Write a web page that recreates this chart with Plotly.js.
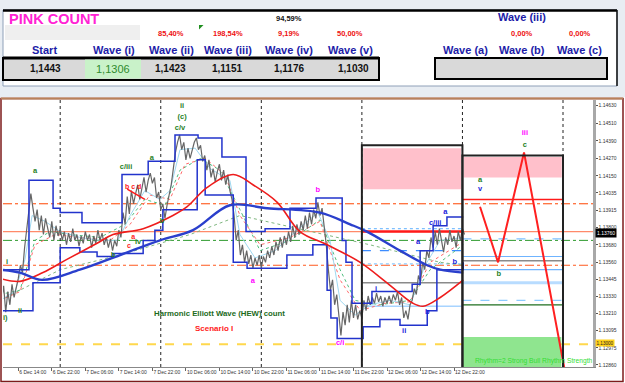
<!DOCTYPE html>
<html><head><meta charset="utf-8">
<script src="https://cdn.plot.ly/plotly-3.0.1.min.js"></script>
<style>html,body{margin:0;padding:0;background:#fff;overflow:hidden}#chart{width:625px;height:383px}</style>
</head><body><div id="chart"></div>
<script>
// ---------------- data ----------------
const tickHours = [14,22,30,38,46,54,62,70,78,86,94,102,110,118];
const tickLabels = ["6 Dec 14:00","6 Dec 22:00","7 Dec 06:00","7 Dec 14:00","7 Dec 22:00","10 Dec 06:00","10 Dec 14:00","10 Dec 22:00","11 Dec 06:00","11 Dec 14:00","11 Dec 22:00","12 Dec 06:00","12 Dec 14:00","12 Dec 22:00"];
const dayBreakHours = [24,48,72,96,120,144];
const priceTicks = [1.14630,1.14510,1.14390,1.14270,1.14150,1.14035,1.13915,1.13800,1.13680,1.13560,1.13445,1.13330,1.13210,1.13095,1.12975,1.12860];

const barStartHour = 10, barStepHours = 0.5;
const closePrices = [
1.1330,1.1340,1.1322,1.1336,1.1327,1.1341,1.1332,1.1338,1.1345,
1.1354,1.1349,1.1366,1.1377,1.1390,1.1403,1.1393,
1.1384,1.1392,1.1378,1.1388,1.1375,1.1386,1.1379,1.1373,1.1384,1.1371,1.1381,1.1374,1.1379,
1.1371,1.1377,1.1368,1.1376,1.1370,1.1379,1.1371,1.1375,1.1367,1.1374,1.1369,1.1377,1.1371,1.1375,1.1366,1.1374,1.1369,1.1378,1.1371,1.1376,1.1368,1.1373,1.1366,1.1372,1.1364,1.1371,1.1367,
1.1378,1.1373,1.1390,1.1382,1.1401,1.1389,1.1405,1.1396,1.1403,1.1409,1.1399,1.1407,1.1414,1.1404,1.1412,1.1417,
1.1410,1.1414,1.1400,1.1404,1.1392,1.1396,1.1386,
1.1395,1.1401,1.1409,1.1420,1.1431,1.1438,1.1443,
1.1433,1.1438,1.1426,1.1434,1.1427,1.1433,1.1438,1.1441,1.1433,1.1436,1.1425,1.1429,
1.1419,1.1426,1.1414,1.1420,1.1411,1.1418,1.1423,1.1412,1.1419,1.1409,1.1416,1.1405,1.1399,
1.1388,1.1371,1.1378,1.1361,1.1368,1.1356,1.1364,
1.1355,1.1361,1.1352,1.1359,1.1354,1.1361,1.1352,1.1360,1.1356,1.1364,1.1359,1.1367,1.1361,1.1370,1.1364,1.1373,1.1366,1.1374,1.1368,1.1377,1.1370,1.1381,1.1373,1.1382,1.1375,
1.1384,1.1378,1.1388,1.1379,1.1390,1.1382,1.1392,1.1386,1.1397,1.1388,1.1393,1.1382,1.1368,
1.1351,1.1337,1.1344,1.1327,1.1334,1.1318,1.1306,1.1322,1.1313,
1.1327,1.1315,1.1330,1.1318,1.1327,1.1317,1.1323,1.1318,
1.1330,1.1323,1.1333,1.1327,1.1332,1.1328,1.1335,1.1329,1.1333,1.1326,1.1332,1.1328,1.1333,1.1328,1.1334,1.1330,1.1336,1.1327,1.1332,1.1318,1.1323,1.1317,1.1327,1.1330,
1.1338,1.1334,1.1347,1.1343,1.1356,1.1351,1.1364,1.1359,1.1373,
1.1366,1.1377,1.1368,1.1379,1.1371,1.1363,1.1373,1.1368,1.1378,1.1370,1.1374,1.1366,1.1377,1.1371,1.1379,1.1375
];
const barHours = closePrices.map((_, i) => barStartHour + i * barStepHours);

// channel steps
const upperHours = [9.6,16.55,22.3,24.0,29.2,38.75,45.0,51.4,56.9,62.6,68.35,72.9,78.85,85.05,91.3,92.2,93.65,98.4,108.0,109.9,113.0,116.3,120.2];
const upperPrices = [1.1351,1.1412,1.1393,1.1390,1.1383,1.1416,1.1425,1.1443,1.1441,1.1428,1.1377,1.1379,1.1393,1.1400,1.1371,1.1356,1.1328,1.1336,1.1341,1.1364,1.1381,1.1387,1.1387];
const lowerHours = [9.6,17.5,24.0,28.7,32.8,36.6,43.8,46.6,48.5,56.7,58.6,65.3,68.6,78.1,84.3,87.7,88.6,90.1,96.3,100.3,105.1,111.6,113.9,120.2];
const lowerPrices = [1.1323,1.1342,1.1366,1.1363,1.1360,1.1362,1.1371,1.1378,1.1392,1.1426,1.1402,1.1356,1.1352,1.1361,1.1368,1.1337,1.1318,1.1304,1.1312,1.1317,1.1313,1.1323,1.1351,1.1356];

// moving averages
const redMaHours = [9.6,14.4,19.9,25.6,32.8,36.6,43.8,50.9,54.3,59.0,65.3,70.0,75.8,81.2,87.7,95.6,102.0,108.2,110.6,114.7,120.2];
const redMaPrices = [1.1345,1.1343,1.1349,1.1358,1.1369,1.1375,1.1379,1.1388,1.1394,1.1407,1.1416,1.1409,1.1397,1.1377,1.1368,1.1356,1.1342,1.1328,1.1326,1.1332,1.1344];
const blueMaHours = [9.6,14.4,19.7,28.7,38.3,47.8,55.7,64.5,73.4,86.0,93.2,97.2,105.1,111.6,114.7,120.2];
const blueMaPrices = [1.1351,1.1349,1.1344,1.1351,1.1361,1.1371,1.1378,1.1395,1.1393,1.1390,1.1382,1.1377,1.1364,1.1354,1.1351,1.1349];
const fastMaHours = [9.6,13.2,15.6,17.3,20.4,24.0,28.7,33.5,37.8,40.7,44.2,47.8,50.2,52.6,56.2,59.8,64.5,66.9,70.5,75.3,80.1,85.5,88.4,90.8,94.4,97.9,102.7,107.5,111.1,114.7,120.2];
const fastMaPrices = [1.1330,1.1336,1.1358,1.1388,1.1384,1.1377,1.1373,1.1371,1.1371,1.1388,1.1405,1.1399,1.1405,1.1433,1.1434,1.1420,1.1412,1.1375,1.1359,1.1364,1.1377,1.1390,1.1371,1.1330,1.1320,1.1327,1.1330,1.1327,1.1354,1.1371,1.1373];
const greenMaHours = [9.6,14.4,18.0,21.6,26.3,33.5,39.5,44.2,49.0,52.6,57.4,62.1,66.9,71.7,78.9,86.0,90.8,94.4,100.3,107.5,112.3,120.2];
const greenMaPrices = [1.1334,1.1337,1.1371,1.1377,1.1375,1.1373,1.1382,1.1399,1.1395,1.1419,1.1427,1.1419,1.1392,1.1364,1.1371,1.1385,1.1351,1.1330,1.1327,1.1330,1.1351,1.1368];
const redDotHours = [9.6,14.4,18.0,22.8,28.7,35.9,40.7,45.4,50.2,53.8,58.6,63.3,66.9,71.7,78.9,86.0,90.8,95.6,101.5,107.5,112.3,120.2];
const redDotPrices = [1.1330,1.1336,1.1368,1.1375,1.1373,1.1371,1.1382,1.1402,1.1399,1.1423,1.1427,1.1416,1.1388,1.1368,1.1373,1.1384,1.1344,1.1323,1.1328,1.1329,1.1356,1.1370];
const slowMaHours = [9.6,24.0,38.3,55.0,66.9,81.2,97.9,114.7,120.2];
const slowMaPrices = [1.1330,1.1351,1.1361,1.1375,1.1388,1.1379,1.1368,1.1356,1.1354];

const trendHours = [40.0,44.2];
const trendPrices = [1.1406,1.1399];
const projHours = [124.2,128.5,134.7,144.5];
const projPrices = [1.1394,1.1356,1.1431,1.1281];

// horizontal levels (full width)
const levelPrices = [1.1396,1.1377,1.1371,1.1354,1.1300];
// zones
const zoneStart = [96,120];
const zoneEnd = [120,144];
const zoneTop = [1.1436,1.1429];
const pinkLow = [1.1406,1.1414];
const pinkHigh = [1.1434,1.1428];
const greenZoneTop = 1.1305;
const box1Levels = [1.1377,1.1379,1.1364,1.1355,1.1342,1.1326];
const box2Levels = [1.1399,1.1372,1.1360,1.1357,1.1351,1.1342,1.1330,1.1327];

// wave labels
const greenLabelText = ["a","c/iii","a","ii","(c)","c/v","b","i","ii","i)","b","iv","a","b","c"];
const greenLabelHour = [18.0,39.7,45.9,53.1,53.1,52.6,48.3,11.3,14.4,10.9,36.6,42.6,124.2,128.7,134.9];
const greenLabelPrice = [1.1418,1.1421,1.1427,1.1463,1.1455,1.1448,1.1384,1.1356,1.1323,1.1318,1.1361,1.1370,1.1412,1.1348,1.1436];
const blueLabelText = ["v","c/iii","a","a","i","ii","b","b"];
const blueLabelHour = [124.2,113.5,115.9,109.4,99.4,106.1,111.6,118.2];
const blueLabelPrice = [1.1406,1.1383,1.1390,1.1370,1.1338,1.1309,1.1322,1.1356];
const magentaLabelText = ["a","b","c/i","iii"];
const magentaLabelHour = [70.0,85.5,90.8,134.9];
const magentaLabelPrice = [1.1343,1.1405,1.1301,1.1444];
const redLabelText = ["b c d","a","c"];
const redLabelHour = [41.4,41.4,40.4];
const redLabelPrice = [1.1407,1.1373,1.1367];

// table
const headerNames = ["Start","Wave (i)","Wave (ii)","Wave (iii)","Wave (iv)","Wave (v)","Wave (a)","Wave (b)","Wave (c)"];
const countValues = ["1,1443","1,1306","1,1423","1,1151","1,1176","1,1030"];
const ratioTexts = ["85,40%","198,54%","9,19%","50,00%","0,00%","0,00%"];

// ---------------- drawing ----------------
const X_RANGE = [10.35, 151.16];
const Y_RANGE = [1.12845, 1.14669];
const PL=3, PR=593, PT=100, PB=367;
const fx = x => (x-PL)/(PR-PL);
const fy = y => (PB-y)/(PB-PT);
const FONT = "Liberation Sans, Arial, sans-serif";

function ln(x,y,color,width,dash,shape){
  return {type:'scatter',mode:'lines',x:x,y:y,line:{color:color,width:width,dash:dash||'solid',shape:shape||'linear'},hoverinfo:'skip',showlegend:false};
}
function txt(x,y,t,color,size){
  return {type:'scatter',mode:'text',x:x,y:y,text:t,textposition:'middle center',
    textfont:{family:FONT,size:size||7.5,color:color,weight:'bold'},hoverinfo:'skip',showlegend:false,cliponaxis:false};
}

const traces = [
  ln(slowMaHours, slowMaPrices, '#7fb77f', 1, 'dot'),
  ln(greenMaHours, greenMaPrices, '#4fbf7f', 1, 'dot'),
  ln(redDotHours, redDotPrices, '#ff6a6a', 1, 'dot'),
  ln(fastMaHours, fastMaPrices, '#9fd8f0', 1),
  ln(barHours, closePrices, '#666666', 1.2),
  ln(upperHours, upperPrices, '#2233cc', 1.5, 'solid', 'hv'),
  ln(lowerHours, lowerPrices, '#2233cc', 1.5, 'solid', 'hv'),
  ln(redMaHours, redMaPrices, '#ee1c1c', 1.6, 'solid', 'spline'),
  ln(blueMaHours, blueMaPrices, '#2a3fcc', 2.4, 'solid', 'spline'),
  ln(trendHours, trendPrices, '#ff1a1a', 1.5),
  ln(projHours, projPrices, '#ff2020', 2),
  txt(greenLabelHour, greenLabelPrice, greenLabelText, '#1f7f1f'),
  txt(blueLabelHour, blueLabelPrice, blueLabelText, '#1a1adc'),
  txt(magentaLabelHour, magentaLabelPrice, magentaLabelText, '#ff00ff'),
  txt(redLabelHour, redLabelPrice, redLabelText, '#ff1a1a', 7)
];

const shapes = [];
for (let i=0;i<zoneStart.length;i++){
  shapes.push({type:'rect',xref:'x',yref:'y',x0:zoneStart[i]+0.3,x1:zoneEnd[i]-0.3,y0:pinkLow[i],y1:pinkHigh[i],fillcolor:'#ffc0cb',line:{width:0},layer:'below'});
}
shapes.push({type:'rect',xref:'x',yref:'y',x0:zoneStart[1],x1:zoneEnd[1]-0.4,y0:Y_RANGE[0],y1:greenZoneTop,fillcolor:'#8fe58f',line:{width:0},layer:'below'});
const levelStyle = [['#ff4500','dashdot',1],['#ff8a6a','solid',1.2],['#2e9a2e','dashdot',1],['#ff5a1f','dashdot',1],['#ffd84d','dash',2]];
levelPrices.forEach((p,i)=>shapes.push({type:'line',xref:'paper',yref:'y',x0:0,x1:1,y0:p,y1:p,line:{color:levelStyle[i][0],dash:levelStyle[i][1],width:levelStyle[i][2]},layer:'below'}));
const b1Style = [['#ff1a1a','solid',2.5],['#7ec0ff','dot',1.2],['#3c8cff','dash',1.2],['#8ccaff','dot',1.2],['#8a8a8a','solid',1.5],['#a8d4ff','solid',1.5]];
box1Levels.forEach((p,i)=>shapes.push({type:'line',xref:'x',yref:'y',x0:zoneStart[0],x1:zoneEnd[0],y0:p,y1:p,line:{color:b1Style[i][0],dash:b1Style[i][1],width:b1Style[i][2]},layer:'below'}));
const b2Style = [['#ff1a1a','solid',1.5],['#7ec0ff','dash',1.2],['#6fb4ff','solid',1.2],['#8a8a8a','solid',1.5],['#6fb4ff','solid',1.2],['#b8dcff','solid',3],['#8ccaff','dash',1.2],['#1f6f1f','solid',1.2]];
box2Levels.forEach((p,i)=>shapes.push({type:'line',xref:'x',yref:'y',x0:zoneStart[1],x1:zoneEnd[1],y0:p,y1:p,line:{color:b2Style[i][0],dash:b2Style[i][1],width:b2Style[i][2]},layer:'below'}));
for (let i=0;i<zoneStart.length;i++){
  shapes.push({type:'rect',xref:'x',yref:'y',x0:zoneStart[i],x1:zoneEnd[i],y0:Y_RANGE[0]-0.001,y1:zoneTop[i],line:{color:'#222',width:2},fillcolor:'rgba(0,0,0,0)'});
}
dayBreakHours.forEach(h=>shapes.push({type:'line',xref:'x',yref:'paper',x0:h,x1:h,y0:0,y1:1,line:{color:'#222',width:1,dash:'dot'},layer:'below'}));

const deco = [
  {type:'rect',xref:'paper',yref:'paper',x0:fx(-5),x1:fx(630),y0:fy(97),y1:fy(-5),fillcolor:'#e8edf3',line:{width:0}},
  {type:'rect',xref:'paper',yref:'paper',x0:fx(3),x1:fx(617),y0:fy(86),y1:fy(10),fillcolor:'#ffffff',line:{color:'#8fa0b8',width:1}},
  {type:'line',xref:'paper',yref:'paper',x0:fx(3),x1:fx(617),y0:fy(10.5),y1:fy(10.5),line:{color:'#000',width:2.5}},
  {type:'line',xref:'paper',yref:'paper',x0:fx(617),x1:fx(617),y0:fy(10),y1:fy(86),line:{color:'#111',width:1.5}},
  {type:'rect',xref:'paper',yref:'paper',x0:fx(5),x1:fx(140),y0:fy(40),y1:fy(25),fillcolor:'#efefef',line:{width:0}},
  {type:'rect',xref:'paper',yref:'paper',x0:fx(3),x1:fx(379),y0:fy(80),y1:fy(58),fillcolor:'#d9d9d9',line:{color:'#000',width:2}},
  {type:'line',xref:'paper',yref:'paper',x0:fx(3),x1:fx(379),y0:fy(58),y1:fy(58),line:{color:'#000',width:3}},
  {type:'rect',xref:'paper',yref:'paper',x0:fx(85),x1:fx(141),y0:fy(78.5),y1:fy(59.5),fillcolor:'#c9f2c9',line:{width:0}},
  {type:'rect',xref:'paper',yref:'paper',x0:fx(435),x1:fx(607),y0:fy(79),y1:fy(58),fillcolor:'#d9d9d9',line:{color:'#000',width:2}},
  {type:'path',xref:'paper',yref:'paper',path:`M ${fx(199)} ${fy(25)} L ${fx(203.5)} ${fy(25)} L ${fx(199)} ${fy(29.5)} Z`,fillcolor:'#1f8f1f',line:{width:0}},
  {type:'rect',xref:'paper',yref:'paper',x0:fx(1),x1:fx(623),y0:fy(381.5),y1:fy(98.5),line:{color:'#7d1b1b',width:1.5},fillcolor:'rgba(0,0,0,0)'},
  {type:'line',xref:'paper',yref:'paper',x0:fx(1),x1:fx(623),y0:fy(98.5),y1:fy(98.5),line:{color:'#b8825c',width:1.8}}
];

const annotations = [];
function ann(x,y,text,color,size,bold){
  return {xref:'paper',yref:'paper',x:fx(x),y:fy(y),text:text,showarrow:false,xanchor:'center',yanchor:'middle',
    font:{family:FONT,size:size,color:color,weight:bold?'bold':'normal'}};
}
annotations.push(ann(54,18.5,'PINK COUNT','#ff22d4',14.5,true));
const ratioX = [171,228,289,350,522,580];
ratioTexts.forEach((t,i)=>annotations.push(ann(ratioX[i],33,t,'#ee1111',7.5,true)));
annotations.push(ann(289,19,'94,59%','#111',7.5,true));
annotations.push(ann(522,17,'Wave (iii)','#1c1ca8',11,true));
const headerX = [44.5,113.5,171,227.5,288.5,350,465,522,579.5];
headerNames.forEach((t,i)=>annotations.push(ann(headerX[i],50,t,'#1c1ca8',11,true)));
const valueX = [45,113,170,227,289,354];
countValues.forEach((t,i)=>annotations.push(ann(valueX[i],69,t,i===1?'#2e8b2e':'#111',i===1?11:10,i!==1)));

annotations.push({xref:'x',yref:'y',x:61.9,y:1.1321,text:'Harmonic Elliott Wave (HEW) count',showarrow:false,
  font:{family:FONT,size:7.8,color:'#1c6b1c',weight:'bold'}});
annotations.push({xref:'x',yref:'y',x:60.7,y:1.1311,text:'Scenario I',showarrow:false,
  font:{family:FONT,size:8,color:'#ff1a1a',weight:'bold'}});
annotations.push({xref:'x',yref:'y',x:122.5,y:1.12885,text:'Rhythm=2 Strong Bull Rhythm Strength',showarrow:false,xanchor:'left',
  font:{family:FONT,size:6.7,color:'#33dd33'}});
annotations.push({xref:'paper',yref:'y',x:fx(595),y:1.1376,text:'1.13760',showarrow:false,xanchor:'left',
  bgcolor:'#000',borderpad:1,font:{family:FONT,size:5,color:'#fff'}});
annotations.push({xref:'paper',yref:'y',x:fx(595),y:1.1301,text:'1.13000',showarrow:false,xanchor:'left',
  bgcolor:'#ffd11a',borderpad:0.5,font:{family:FONT,size:4.6,color:'#222'}});

const layout = {
  width:625,height:383,
  margin:{l:PL,r:625-PR,t:PT,b:383-PB},
  paper_bgcolor:'#ffffff',plot_bgcolor:'#ffffff',
  showlegend:false,
  xaxis:{range:X_RANGE,tickvals:tickHours,ticktext:tickLabels,ticks:'outside',ticklen:3,tickcolor:'#666',tickangle:0,
    ticklabelposition:'outside right',tickfont:{family:FONT,size:5,color:'#333'},
    showgrid:false,zeroline:false,showline:true,linecolor:'#888',linewidth:1,automargin:false,fixedrange:true},
  yaxis:{range:Y_RANGE,side:'right',tickvals:priceTicks,ticktext:priceTicks.map(v=>v.toFixed(5)),ticks:'outside',ticklen:2,tickcolor:'#555',
    tickfont:{family:FONT,size:5,color:'#333'},showgrid:false,zeroline:false,showline:true,linecolor:'#a8a8a8',linewidth:2.5,automargin:false,fixedrange:true},
  shapes:deco.concat(shapes),
  annotations:annotations
};

Plotly.newPlot('chart', traces, layout, {staticPlot:true, displayModeBar:false});
</script>
</body></html>
